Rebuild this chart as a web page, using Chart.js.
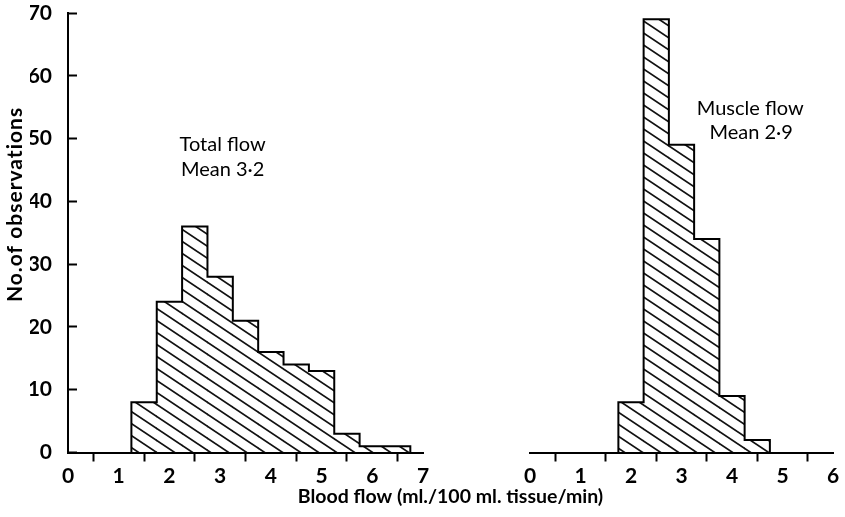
<!DOCTYPE html>
<html>
<head>
<meta charset="utf-8">
<script src="https://cdn.jsdelivr.net/npm/chart.js@4.4.1/dist/chart.umd.min.js"></script>
<style>
  html, body { margin: 0; padding: 0; background: #fff; }
</style>
</head>
<body>
<canvas id="hist" width="845" height="517"></canvas>
<script>
// bins are 0.5 wide, given by their left edge
const binWidth = 0.5;
const totalBinStarts = [1.25, 1.75, 2.25, 2.75, 3.25, 3.75, 4.25, 4.75, 5.25, 5.75, 6.25];
const totalCounts = [8, 24, 36, 28, 21, 16, 14, 13, 3, 1, 1];
const muscleBinStarts = [1.75, 2.25, 2.75, 3.25, 3.75, 4.25];
const muscleCounts = [8, 69, 49, 34, 9, 2];

const yTicks = [0, 10, 20, 30, 40, 50, 60, 70];
const totalTicks = [0, 1, 2, 3, 4, 5, 6, 7];
const muscleTicks = [0, 1, 2, 3, 4, 5, 6];

const ink = '#000';
const fontFamily = 'Lato, "Open Sans", sans-serif';

// diagonal "\" hatching used for the bars
function makeHatch() {
  const tile = document.createElement('canvas');
  tile.width = 18;
  tile.height = 12;
  const g = tile.getContext('2d');
  g.strokeStyle = '#111';
  g.lineWidth = 1.7;
  g.beginPath();
  for (let k = -2; k <= 2; k++) {
    g.moveTo(k * 18 - 18, -12);
    g.lineTo(k * 18 + 36, 24);
  }
  g.stroke();
  return g.createPattern(tile, 'repeat');
}
const hatch = makeHatch();

function barPoints(starts, counts) {
  return starts.map((s, i) => ({ x: s + binWidth / 2, y: counts[i] }));
}

// outline of the histogram (step line along the tops of the bins)
function outlinePoints(starts, counts) {
  const pts = [{ x: starts[0], y: 0 }];
  starts.forEach((s, i) => pts.push({ x: s, y: counts[i] }));
  pts.push({ x: starts[starts.length - 1] + binWidth, y: 0 });
  return pts;
}

function tickList(values) {
  return (scale) => { scale.ticks = values.map(v => ({ value: v })); };
}

const tickFont = { family: fontFamily, size: 21, weight: 'bold', lineHeight: 1 };

const xAxisBase = {
  type: 'linear',
  position: 'bottom',
  stack: 'flow',
  offset: false,
  z: 1,
  grid: { drawOnChartArea: false, drawTicks: true, tickLength: 9, tickWidth: 2, tickColor: ink },
  border: { display: true, color: ink, width: 2 },
  ticks: { color: ink, padding: 4, maxRotation: 0, autoSkip: false, font: tickFont }
};

const notes = [
  { scale: 'x', x: 3.05, y: 49, text: 'Total flow' },
  { scale: 'x', x: 3.05, y: 45, text: 'Mean 3\u00b72' },
  { scale: 'x2', x: 4.36, y: 54.8, text: 'Muscle flow' },
  { scale: 'x2', x: 4.38, y: 51, text: 'Mean 2\u00b79' }
];

const textPlugin = {
  id: 'texts',
  afterDraw(chart) {
    const ctx = chart.ctx;
    const y = chart.scales.y;
    ctx.save();
    ctx.fillStyle = ink;
    ctx.textAlign = 'center';
    ctx.textBaseline = 'middle';
    ctx.font = '20px ' + fontFamily;
    notes.forEach(n => {
      ctx.fillText(n.text, chart.scales[n.scale].getPixelForValue(n.x), y.getPixelForValue(n.y));
    });
    // y axis title
    ctx.font = 'bold 21px ' + fontFamily;
    ctx.letterSpacing = '1px';
    ctx.translate(15, y.getPixelForValue(39.5));
    ctx.rotate(-Math.PI / 2);
    ctx.fillText('No.of observations', 0, 0);
    ctx.restore();
  }
};

const cfg = {
  data: {
    datasets: [
      {
        type: 'line', xAxisID: 'x', data: outlinePoints(totalBinStarts, totalCounts),
        stepped: 'before', borderColor: ink, borderWidth: 2, pointRadius: 0, fill: false, order: 0
      },
      {
        type: 'line', xAxisID: 'x2', data: outlinePoints(muscleBinStarts, muscleCounts),
        stepped: 'before', borderColor: ink, borderWidth: 2, pointRadius: 0, fill: false, order: 0
      },
      {
        type: 'bar', label: 'Total flow', xAxisID: 'x', data: barPoints(totalBinStarts, totalCounts),
        backgroundColor: hatch, borderWidth: 0, barPercentage: 1, categoryPercentage: 1, grouped: false, order: 1
      },
      {
        type: 'bar', label: 'Muscle flow', xAxisID: 'x2', data: barPoints(muscleBinStarts, muscleCounts),
        backgroundColor: hatch, borderWidth: 0, barPercentage: 1, categoryPercentage: 1, grouped: false, order: 1
      }
    ]
  },
  options: {
    responsive: false,
    animation: false,
    layout: { padding: { left: 30, right: 12, top: 13, bottom: 11 } },
    plugins: {
      legend: { display: false },
      tooltip: { enabled: false },
      title: {
        display: true,
        position: 'bottom',
        fullSize: false,
        text: 'Blood flow (ml./100 ml. tissue/min)',
        color: ink,
        padding: { top: -4, bottom: 0 },
        font: { family: fontFamily, size: 19.5, weight: 'bold', lineHeight: 1 }
      }
    },
    scales: {
      x: Object.assign({}, xAxisBase, { min: 0, max: 7, weight: 1, stackWeight: 355, afterBuildTicks: tickList(totalTicks) }),
      gap: { type: 'linear', position: 'bottom', stack: 'flow', weight: 2, stackWeight: 107, display: false },
      x2: Object.assign({}, xAxisBase, { min: 0, max: 6, weight: 3, stackWeight: 303, afterBuildTicks: tickList(muscleTicks) }),
      y: {
        type: 'linear',
        position: 'left',
        min: 0,
        max: 70,
        afterBuildTicks: tickList(yTicks),
        afterFit: (s) => { s.width = 38; s.paddingTop = 10; s.paddingBottom = 10; },
        grid: { drawOnChartArea: false, drawTicks: true, tickLength: -9, tickWidth: 2, tickColor: ink },
        border: { display: true, color: ink, width: 2 },
        ticks: { color: ink, padding: 25, font: tickFont }
      }
    }
  },
  plugins: [textPlugin]
};

new Chart(document.getElementById('hist'), cfg);
</script>
</body>
</html>
